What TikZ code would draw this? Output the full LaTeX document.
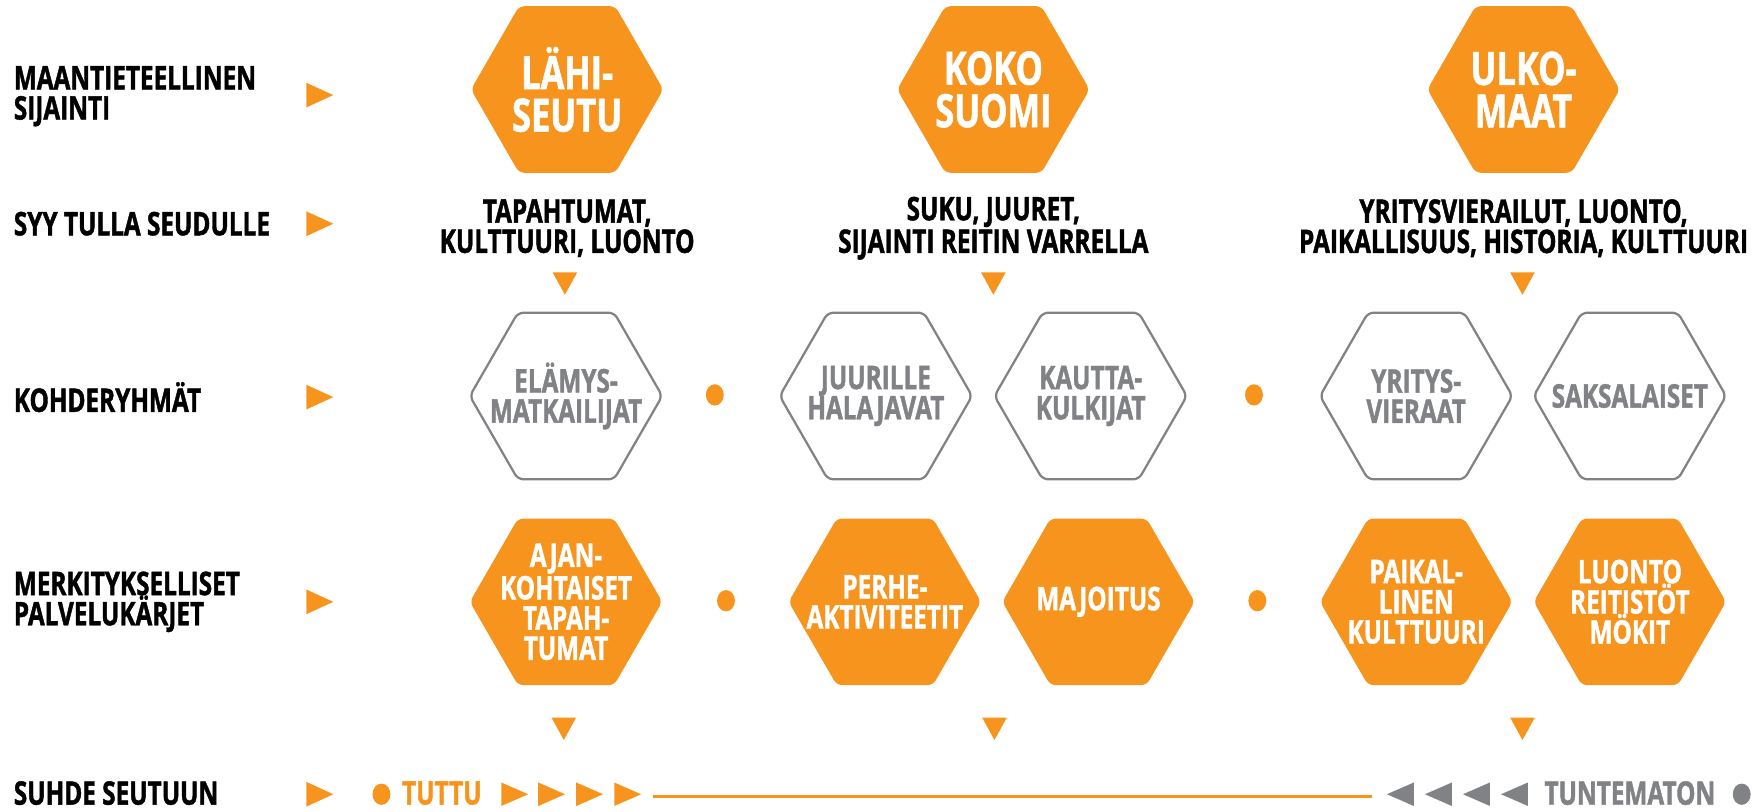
\documentclass[tikz,border=0pt]{standalone}
\usepackage{fontspec}
\setmainfont{Open Sans}[FakeStretch=0.75, BoldFeatures={FakeBold=1.3}]
\usetikzlibrary{shapes.geometric}
\definecolor{hexorange}{HTML}{F7941D}
\definecolor{hexgray}{HTML}{808285}

\begin{document}
\begin{tikzpicture}[x=0.5pt, y=-0.5pt,
            rowlabel/.style={anchor=west, align=left, inner sep=1pt, font=\fontsize{14.5}{13.5}\selectfont\bfseries},
            reason/.style={align=center, font=\fontsize{14.5}{13.5}\selectfont\bfseries},
            hexbase/.style={regular polygon, regular polygon sides=6, minimum size=86pt,
                inner sep=-14pt, rounded corners=2.5pt, align=center},
            bighex/.style={hexbase, fill=hexorange, text=white, font=\fontsize{20.5}{19}\selectfont\bfseries},
            grouphex/.style={hexbase, draw=hexgray, line width=1pt, text=hexgray, font=\fontsize{14.5}{13.5}\selectfont\bfseries},
            servicehex/.style={hexbase, fill=hexorange, text=white, font=\fontsize{14.5}{13.5}\selectfont\bfseries},
            tri/.style={isosceles triangle, isosceles triangle stretches, inner sep=0pt, fill=hexorange},
            rowarrow/.style={tri, minimum width=11pt, minimum height=12pt},
            downarrow/.style={tri, minimum width=11pt, minimum height=10pt, rotate=-90},
            smallarrow/.style={tri, minimum width=10.5pt, minimum height=12pt},
            backarrow/.style={tri, fill=hexgray, minimum width=10.5pt, minimum height=12pt, rotate=180},
            dot/.style={ellipse, fill=hexorange, minimum width=8pt, minimum height=9.5pt, inner sep=0pt},
            endtext/.style={inner sep=1pt, font=\fontsize{14.5}{13.5}\selectfont\bfseries}]

            \useasboundingbox (0,0) rectangle (1568,725);

            \node[rowlabel] (lab1) at (10,86) {MAANTIETEELLINEN\\SIJAINTI};
            \node[rowlabel] (lab2) at (10,200) {SYY TULLA SEUDULLE};
            \node[rowlabel] (lab3) at (10,355) {KOHDERYHMÄT};
            \node[rowlabel] (lab4) at (10,538) {MERKITYKSELLISET\\PALVELUKÄRJET};
            \node[rowlabel] (lab5) at (10,709) {SUHDE SEUTUUN};

            \node[rowarrow] (ra1) at (281,85) {};
            \node[rowarrow] (ra2) at (281,200) {};
            \node[rowarrow] (ra3) at (281,355) {};
            \node[rowarrow] (ra4) at (281,538) {};
            \node[rowarrow] (ra5) at (281,710) {};

            \node[bighex] (lahi) at (507,80) {LÄHI-\\SEUTU};
            \node[bighex] (koko) at (888,80) {KOKO\\SUOMI};
            \node[bighex] (ulko) at (1362,80) {ULKO-\\MAAT};

            \node[reason] (syylahi) at (507,204) {TAPAHTUMAT,\\KULTTUURI, LUONTO};
            \node[reason] (syykoko) at (888,204) {SUKU, JUURET,\\SIJAINTI REITIN VARRELLA};
            \node[reason] (syyulko) at (1362,204) {YRITYSVIERAILUT, LUONTO,\\PAIKALLISUUS, HISTORIA, KULTTUURI};

            \node[downarrow] (da1) at (505,250) {};
            \node[downarrow] (da2) at (888,250) {};
            \node[downarrow] (da3) at (1361,250) {};

            \node[grouphex] (elamys) at (506,354) {ELÄMYS-\\MATKAILIJAT};
            \node[dot] (dot1) at (639,353) {};
            \node[grouphex] (juuret) at (783,354) {JUURILLE\\HALAJAVAT};
            \node[grouphex] (kautta) at (975,354) {KAUTTA-\\KULKIJAT};
            \node[dot] (dot2) at (1121,353) {};
            \node[grouphex] (yritys) at (1266,354) {YRITYS-\\VIERAAT};
            \node[grouphex] (saksa) at (1457,354) {SAKSALAISET};

            \node[servicehex] (ajan) at (506,538) {AJAN-\\KOHTAISET\\TAPAH-\\TUMAT};
            \node[dot] (dot3) at (649,537) {};
            \node[servicehex] (perhe) at (791,538) {PERHE-\\AKTIVITEETIT};
            \node[servicehex] (majoitus) at (982,538) {MAJOITUS};
            \node[dot] (dot4) at (1124,537) {};
            \node[servicehex] (paikal) at (1266,538) {PAIKAL-\\LINEN\\KULTTUURI};
            \node[servicehex] (luonto) at (1457,538) {LUONTO\\REITISTÖT\\MÖKIT};

            \node[downarrow] (da4) at (504,648) {};
            \node[downarrow] (da5) at (889,648) {};
            \node[downarrow] (da6) at (1361,648) {};

            \node[dot] (tuttudot) at (341,710) {};
            \node[endtext, text=hexorange] (tuttu) at (395,709) {TUTTU};
            \node[smallarrow] (sa1) at (455,710) {};
            \node[smallarrow] (sa2) at (488,710) {};
            \node[smallarrow] (sa3) at (522,710) {};
            \node[smallarrow] (sa4) at (556,710) {};
            \node[backarrow] (ba1) at (1257,710) {};
            \node[backarrow] (ba2) at (1291,710) {};
            \node[backarrow] (ba3) at (1325,710) {};
            \node[backarrow] (ba4) at (1359,710) {};
            \node[endtext, text=hexgray] (tuntematon) at (1457,709) {TUNTEMATON};
            \node[dot, fill=hexgray] (tuntdot) at (1557,710) {};

            \draw[hexorange, line width=1.5pt] ([xshift=5pt,yshift=-1pt]sa4.east) -- ([xshift=-6pt,yshift=-1pt]ba1.east);
\end{tikzpicture}
\end{document}
